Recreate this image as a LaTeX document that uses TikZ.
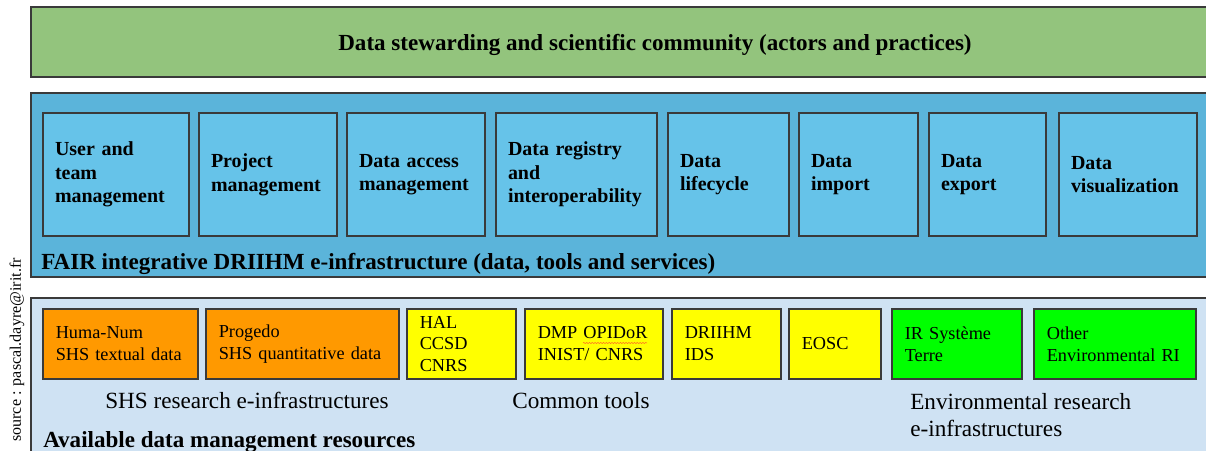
\documentclass[tikz,border=0pt]{standalone}
\usepackage{fontspec}
\setmainfont{Liberation Serif}
\usepackage{tikz}
\usetikzlibrary{decorations.pathmorphing}
\usepackage{xcolor}

\definecolor{stewgreen}{HTML}{93C47D}
\definecolor{fairblue}{HTML}{5BB4DA}
\definecolor{toolblue}{HTML}{66C3E9}
\definecolor{resblue}{HTML}{CFE2F3}
\definecolor{shsorange}{HTML}{FF9900}
\definecolor{commonyellow}{HTML}{FFFF00}
\definecolor{envgreen}{HTML}{00FF00}
\definecolor{edgegray}{HTML}{3A3A3A}

\tikzset{
  layer/.style={draw=edgegray, line width=1pt},
  service/.style={draw=edgegray, line width=1pt, fill=toolblue, text width=#1,
    align=left, inner xsep=0.3cm, minimum height=3.075cm,
    font=\fontsize{14.2}{16.8}\selectfont\bfseries},
  resource/.style={draw=edgegray, line width=1pt, text width=#1,
    align=left, inner xsep=0.32cm, minimum height=1.75cm,
    font=\fontsize{13}{15.6}\selectfont},
  heading/.style={inner sep=0pt, font=\fontsize{16.4}{19}\selectfont\bfseries},
  caption/.style={inner sep=0pt, align=left, font=\fontsize{16.5}{19.2}\selectfont}
}

\begin{document}
\begin{tikzpicture}

\useasboundingbox (0,0) rectangle (30.15,11.25);
\clip (0,0) rectangle (30.15,11.25);
\fill[white] (0,0) rectangle (30.15,11.25);

% -------------------------
% Layers
% -------------------------
\draw[layer, fill=stewgreen] (0.775,9.325) rectangle (30.5,11.075);
\draw[layer, fill=fairblue]  (0.775,4.325) rectangle (30.5,8.925);
\draw[layer, fill=resblue]   (0.775,-0.5)  rectangle (30.5,3.8);

\node[heading, anchor=base] (community) at (16.375,9.975)
  {Data stewarding and scientific community (actors and practices)};

% -------------------------
% Services of the e-infrastructure
% -------------------------
\node[service=3.05cm]  (users)    at (2.9,6.8875)     {User and\\team\\management};
\node[service=2.85cm]  (projects) at (6.7,6.8875)     {Project\\management};
\node[service=2.85cm]  (access)   at (10.4,6.8875)    {Data access\\management};
\node[service=3.425cm] (registry) at (14.4125,6.8875) {Data registry\\and\\interoperability};
\node[service=2.425cm] (lifecycle) at (18.2125,6.8875) {Data\\lifecycle};
\node[service=2.375cm] (import)   at (21.4625,6.8875) {Data\\import};
\node[service=2.325cm] (export)   at (24.6875,6.8875) {Data\\export};
\node[service=2.85cm]  (visu)     at (28.2,6.8875)    {Data\\visualization};

\node[heading, anchor=base west] (fair) at (1.025,4.5)
  {FAIR integrative DRIIHM e-infrastructure (data, tools and services)};

% -------------------------
% Data management resources
% -------------------------
\node[resource=3.235cm, fill=shsorange]    (humanum) at (3.0125,2.65)  {Huma-Num\\SHS textual data};
\node[resource=4.185cm, fill=shsorange]    (progedo) at (7.5625,2.65)  {Progedo\\SHS quantitative data};
\node[resource=2.085cm, fill=commonyellow] (hal)     at (11.5375,2.65) {HAL\\CCSD\\CNRS};
\node[resource=2.81cm,  fill=commonyellow] (opidor)  at (14.85,2.65)   {DMP OPIDoR\\INIST/ CNRS};
\node[resource=2.085cm, fill=commonyellow] (ids)     at (18.1625,2.65) {DRIIHM\\IDS};
\node[resource=1.66cm,  fill=commonyellow] (eosc)    at (20.875,2.65)  {EOSC};
\node[resource=2.61cm,  fill=envgreen]     (irterre) at (23.925,2.65)  {IR Système\\Terre};
\node[resource=3.41cm,  fill=envgreen]     (otherri) at (27.875,2.65)  {Other\\Environmental RI};

% spell checker squiggle
\draw[red!80, line width=0.3pt, decorate,
  decoration={snake, amplitude=0.35pt, segment length=2pt}]
  (14.575,2.675) -- (16.175,2.675);

\node[caption, anchor=base west] (shslabel) at (2.625,1.05) {SHS research e-infrastructures};
\node[caption, anchor=base west] (commonlabel) at (12.8,1.05) {Common tools};
\node[caption, anchor=north west] (envlabel) at (22.75,1.43) {Environmental research\\e-infrastructures};

\node[heading, anchor=base west] (available) at (1.075,0.075)
  {Available data management resources};

\node[rotate=90, font=\fontsize{11.4}{13}\selectfont] (source) at (0.425,2.5)
  {source : pascal.dayre@irit.fr};

\end{tikzpicture}
\end{document}
